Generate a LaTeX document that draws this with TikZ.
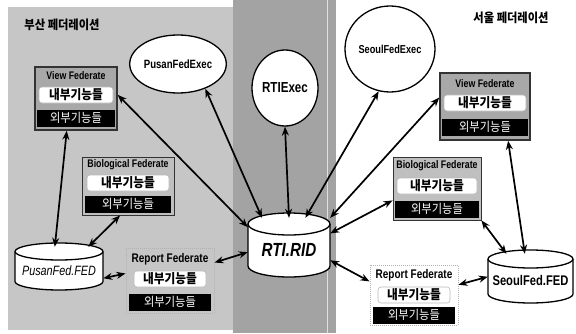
\documentclass[tikz,border=0pt]{standalone}
\usepackage{fontspec}
\setmainfont{Liberation Sans}
\newfontfamily\lat{Liberation Sans}[FakeStretch=0.8]
\newfontfamily\kr{Noto Sans CJK KR}[FakeStretch=0.9]
\usetikzlibrary{arrows.meta,calc,shapes.geometric}
\newcommand\drawdrum[4]{%
  \draw[drum] ($(#1)+(-#2,#3-#4)$) -- ($(#1)+(-#2,-#3+#4)$)
     arc[start angle=180,end angle=360,x radius=#2,y radius=#4]
     -- ($(#1)+(#2,#3-#4)$)
     arc[start angle=0,end angle=180,x radius=#2,y radius=#4] -- cycle;
  \draw[drumline] ($(#1)+(-#2,#3-#4)$)
     arc[start angle=180,end angle=360,x radius=#2,y radius=#4];}
\begin{document}
\begin{tikzpicture}[x=1pt,y=1pt,
  exec/.style={ellipse, draw=black, line width=1.3pt, fill=white, inner sep=0pt},
  drum/.style={draw=black, line width=1.3pt, fill=white},
  drumline/.style={draw=black, line width=1.3pt},
  dbtext/.style={rectangle, inner sep=0pt},
  title/.style={inner sep=1pt, font=\kr\bfseries\fontsize{12.5}{14}\selectfont},
  viewbox/.style={rectangle, inner sep=0pt, fill=gray!68, draw=black!80, line width=1.5pt},
  biobox/.style={rectangle, inner sep=0pt, fill=gray!50, draw=gray!40!black, line width=0.8pt},
  repbox/.style={rectangle, inner sep=0pt, draw=gray!60, densely dotted, line width=1pt},
  hdr/.style={inner sep=0pt, font=\lat\bfseries\fontsize{11}{12}\selectfont},
  inbox/.style={rectangle, rounded corners=3pt, fill=white, draw=gray!55, line width=0.6pt,
     minimum height=16pt, inner sep=0pt, font=\kr\bfseries\fontsize{13}{14}\selectfont},
  outbox/.style={rectangle, fill=black, text=white, minimum height=17pt, inner sep=0pt,
     font=\kr\fontsize{12.5}{13}\selectfont},
  link/.style={{Stealth[length=9pt,width=7pt]}-{Stealth[length=9pt,width=7pt]}, line width=1.7pt}
]
\useasboundingbox (0,0) rectangle (576,333);
% regions
\fill[gray!45] (8,3) rectangle (233,326);
\fill[gray!72] (233,0) rectangle (336,333);
\draw[gray!25, line width=0.8pt] (327,0) -- (327,333);

% titles
\node[title] (ptitle) at (62,308) {부산 페더레이션};
\node[title] (stitle) at (511,315) {서울 페더레이션};

% executives
\node[exec, minimum width=82pt, minimum height=58pt, font=\lat\bfseries\fontsize{12}{13}\selectfont] (pfe) at (178,269) {PusanFedExec};
\node[exec, minimum width=66pt, minimum height=76pt, font=\lat\bfseries\fontsize{14.5}{15}\selectfont] (rex) at (285,245) {RTIExec};
\node[exec, minimum width=90pt, minimum height=86pt, font=\lat\bfseries\fontsize{11.5}{13}\selectfont] (sfe) at (390,284) {SeoulFedExec};

% databases
\coordinate (pfedc) at (59,66.5);
\drawdrum{pfedc}{44}{23.5}{8.5}
\node[dbtext, minimum width=88pt, minimum height=47pt, font=\lat\itshape\fontsize{13.5}{14}\selectfont] (pfed) at ([yshift=-4pt]pfedc) {PusanFed.FED};
\coordinate (ridc) at (289,88);
\drawdrum{ridc}{41}{32}{11}
\node[dbtext, minimum width=82pt, minimum height=64pt, font=\lat\bfseries\itshape\fontsize{19}{20}\selectfont] (rid) at ([yshift=-5pt]ridc) {RTI.RID};
\coordinate (sfedc) at (530.5,56.5);
\drawdrum{sfedc}{42.5}{26.5}{9}
\node[dbtext, minimum width=85pt, minimum height=53pt, font=\lat\bfseries\fontsize{14}{15}\selectfont] (sfed) at ([yshift=-4pt]sfedc) {SeoulFed.FED};

% Pusan View Federate
\node[viewbox, minimum width=82pt, minimum height=63pt] (pv) at (76,234.5) {};
\node[hdr] (pvh) at (76,257) {View Federate};
\node[inbox, minimum width=74pt] (pvi) at (76,238) {내부기능들};
\node[outbox, minimum width=78pt] (pvo) at (76,215) {외부기능들};
% Pusan Biological Federate
\node[biobox, minimum width=92pt, minimum height=58pt] (pb) at (128,147) {};
\node[hdr] (pbh) at (128,168) {Biological Federate};
\node[inbox, minimum width=82pt] (pbi) at (128,150) {내부기능들};
\node[outbox, minimum width=86pt] (pbo) at (128,129) {외부기능들};
% Pusan Report Federate
\node[repbox, minimum width=88pt, minimum height=65pt] (pr) at (170,52.5) {};
\node[hdr, font=\lat\bfseries\fontsize{12.5}{13}\selectfont] (prh) at (170,74) {Report Federate};
\node[inbox, minimum width=72pt] (pri) at (170,54) {내부기능들};
\node[outbox, minimum width=82pt] (pro) at (170,31) {외부기능들};

% Seoul View Federate
\node[viewbox, minimum width=90pt, minimum height=67pt] (sv) at (485,226.5) {};
\node[hdr] (svh) at (485,249) {View Federate};
\node[inbox, minimum width=82pt] (svi) at (485,230) {내부기능들};
\node[outbox, minimum width=86pt] (svo) at (485,206) {외부기능들};
% Seoul Biological Federate
\node[biobox, minimum width=88pt, minimum height=63pt] (sb) at (437,144.5) {};
\node[hdr] (sbh) at (437,167) {Biological Federate};
\node[inbox, minimum width=80pt] (sbi) at (437,147) {내부기능들};
\node[outbox, minimum width=84pt] (sbo) at (437,124) {외부기능들};
% Seoul Report Federate
\node[repbox, minimum width=88pt, minimum height=60pt] (sr) at (414,38) {};
\node[hdr, font=\lat\bfseries\fontsize{12.5}{13}\selectfont] (srh) at (414,58) {Report Federate};
\node[inbox, minimum width=72pt] (sri) at (414,38) {내부기능들};
\node[outbox, minimum width=82pt] (sro) at (414,18) {외부기능들};

% connectors
\draw[link] (pv.5) -- (rid.151);
\draw[link] (pfe.-42) -- (rid.130);
\draw[link] (rex.south) -- (rid.north);
\draw[link] (sfe.-105) -- (rid.63);
\draw[link] (sv.169) -- (rid.38);
\draw[link] (sb.195) -- (rid.22);
\draw[link] (sr.163) -- (rid.-14);
\draw[link] (pr.22) -- (rid.183);
\draw[link] (pv.254) -- (pfed.100);
\draw[link] (pb.255) -- (pfed.39);
\draw[link] (pfed.-10) -- (pr.171);
\draw[link] (sv.-56) -- (sfed.102);
\draw[link] (sb.south east) -- (sfed.132);
\draw[link] (sr.13) -- (sfed.175);
\end{tikzpicture}
\end{document}
